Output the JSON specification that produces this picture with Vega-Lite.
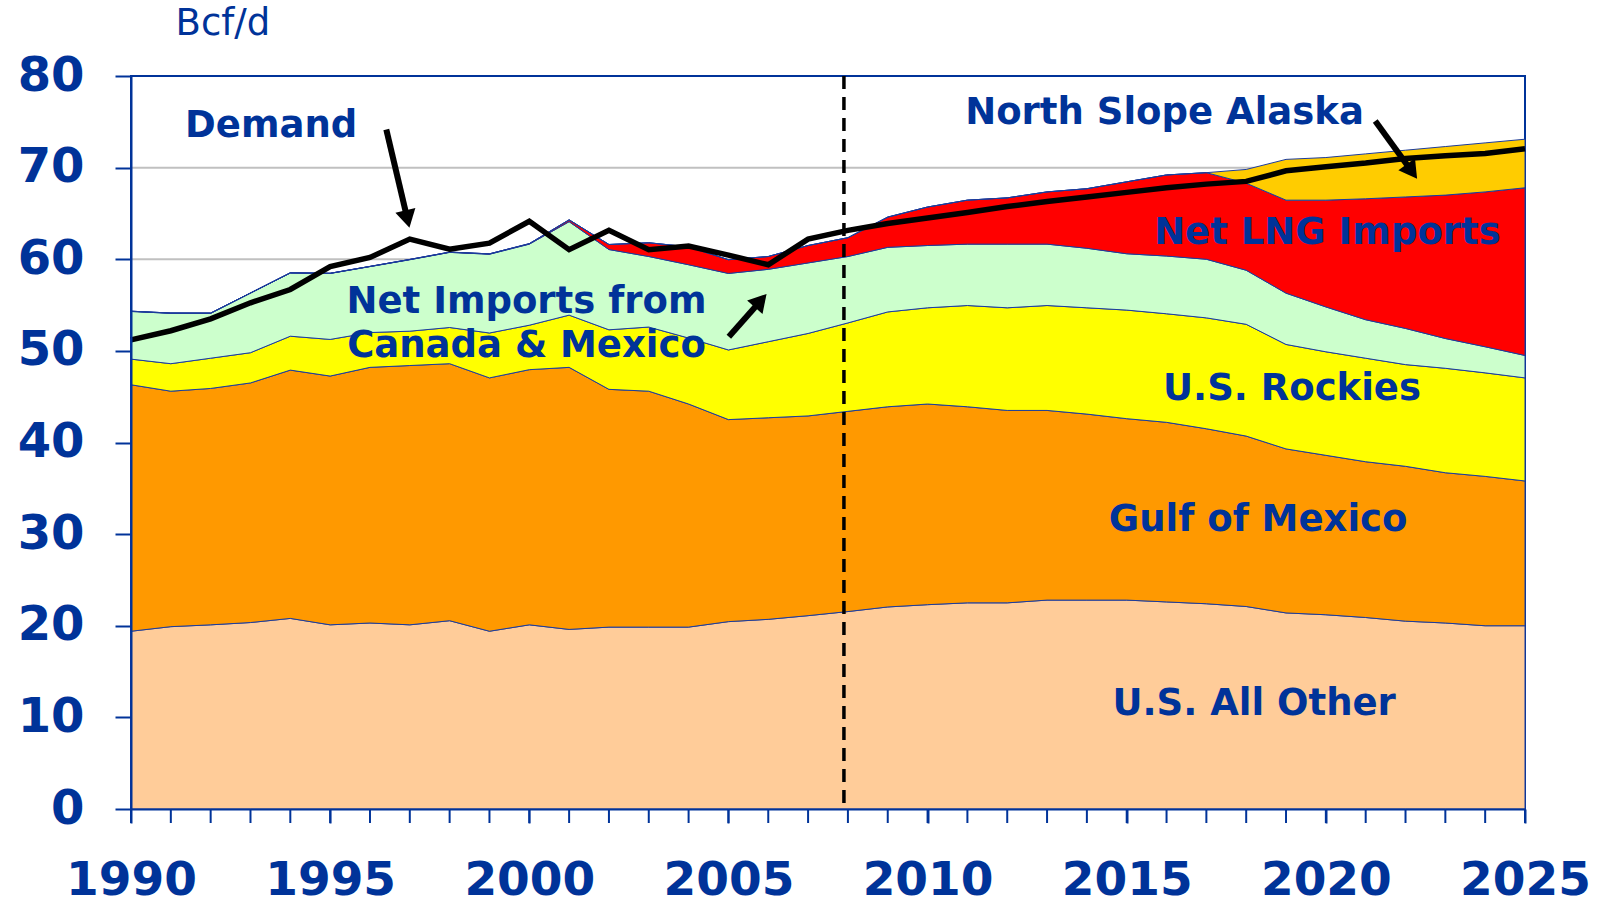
{
  "$schema": "https://vega.github.io/schema/vega-lite/v6.json",
  "width": 1394,
  "height": 733,
  "autosize": {"type": "none"},
  "padding": {"left": 131, "top": 76, "right": 75, "bottom": 89},
  "background": "white",
  "config": {
    "view": {"stroke": "#003399", "strokeWidth": 2},
    "font": "DejaVu Sans"
  },
  "datasets": {
    "supply": [
      {"year": 1990, "allOther": 19.4, "gulf": 26.9, "rockies": 2.8, "canadaMexico": 5.2, "lng": 0.03, "northSlope": 0, "demand": 51.2},
      {"year": 1991, "allOther": 19.9, "gulf": 25.7, "rockies": 3.0, "canadaMexico": 5.5, "lng": 0.03, "northSlope": 0, "demand": 52.2},
      {"year": 1992, "allOther": 20.1, "gulf": 25.8, "rockies": 3.3, "canadaMexico": 4.9, "lng": 0.02, "northSlope": 0, "demand": 53.5},
      {"year": 1993, "allOther": 20.35, "gulf": 26.15, "rockies": 3.3, "canadaMexico": 6.5, "lng": 0.02, "northSlope": 0, "demand": 55.25},
      {"year": 1994, "allOther": 20.8, "gulf": 27.1, "rockies": 3.7, "canadaMexico": 6.9, "lng": 0.02, "northSlope": 0, "demand": 56.7},
      {"year": 1995, "allOther": 20.1, "gulf": 27.15, "rockies": 4.0, "canadaMexico": 7.2, "lng": 0.02, "northSlope": 0, "demand": 59.2},
      {"year": 1996, "allOther": 20.3, "gulf": 27.9, "rockies": 3.8, "canadaMexico": 7.2, "lng": 0.02, "northSlope": 0, "demand": 60.2},
      {"year": 1997, "allOther": 20.1, "gulf": 28.3, "rockies": 3.75, "canadaMexico": 7.8, "lng": 0.03, "northSlope": 0, "demand": 62.2},
      {"year": 1998, "allOther": 20.55, "gulf": 28.05, "rockies": 3.95, "canadaMexico": 8.2, "lng": 0.03, "northSlope": 0, "demand": 61.1},
      {"year": 1999, "allOther": 19.4, "gulf": 27.65, "rockies": 4.9, "canadaMexico": 8.6, "lng": 0.04, "northSlope": 0, "demand": 61.75},
      {"year": 2000, "allOther": 20.1, "gulf": 27.85, "rockies": 4.85, "canadaMexico": 8.85, "lng": 0.05, "northSlope": 0, "demand": 64.15},
      {"year": 2001, "allOther": 19.6, "gulf": 28.6, "rockies": 5.7, "canadaMexico": 10.2, "lng": 0.2, "northSlope": 0, "demand": 61.05},
      {"year": 2002, "allOther": 19.85, "gulf": 25.95, "rockies": 6.5, "canadaMexico": 8.76, "lng": 0.55, "northSlope": 0, "demand": 63.15},
      {"year": 2003, "allOther": 19.85, "gulf": 25.75, "rockies": 7.0, "canadaMexico": 7.7, "lng": 1.5, "northSlope": 0, "demand": 61.05},
      {"year": 2004, "allOther": 19.85, "gulf": 24.35, "rockies": 7.2, "canadaMexico": 8.0, "lng": 1.95, "northSlope": 0, "demand": 61.45},
      {"year": 2005, "allOther": 20.45, "gulf": 22.05, "rockies": 7.6, "canadaMexico": 8.35, "lng": 1.5, "northSlope": 0, "demand": 60.45},
      {"year": 2006, "allOther": 20.7, "gulf": 22.0, "rockies": 8.3, "canadaMexico": 7.9, "lng": 1.4, "northSlope": 0, "demand": 59.4},
      {"year": 2007, "allOther": 21.1, "gulf": 21.8, "rockies": 9.0, "canadaMexico": 7.7, "lng": 1.9, "northSlope": 0, "demand": 62.2},
      {"year": 2008, "allOther": 21.55, "gulf": 21.85, "rockies": 9.65, "canadaMexico": 7.25, "lng": 2.05, "northSlope": 0, "demand": 63.15},
      {"year": 2009, "allOther": 22.05, "gulf": 21.85, "rockies": 10.35, "canadaMexico": 7.05, "lng": 3.3, "northSlope": 0, "demand": 63.9},
      {"year": 2010, "allOther": 22.3, "gulf": 21.9, "rockies": 10.5, "canadaMexico": 6.8, "lng": 4.2, "northSlope": 0, "demand": 64.5},
      {"year": 2011, "allOther": 22.5, "gulf": 21.4, "rockies": 11.05, "canadaMexico": 6.7, "lng": 4.8, "northSlope": 0, "demand": 65.1},
      {"year": 2012, "allOther": 22.5, "gulf": 21.0, "rockies": 11.2, "canadaMexico": 6.95, "lng": 5.05, "northSlope": 0, "demand": 65.75},
      {"year": 2013, "allOther": 22.8, "gulf": 20.7, "rockies": 11.45, "canadaMexico": 6.7, "lng": 5.7, "northSlope": 0, "demand": 66.3},
      {"year": 2014, "allOther": 22.8, "gulf": 20.3, "rockies": 11.6, "canadaMexico": 6.5, "lng": 6.5, "northSlope": 0, "demand": 66.8},
      {"year": 2015, "allOther": 22.8, "gulf": 19.8, "rockies": 11.85, "canadaMexico": 6.15, "lng": 7.85, "northSlope": 0, "demand": 67.3},
      {"year": 2016, "allOther": 22.6, "gulf": 19.6, "rockies": 11.85, "canadaMexico": 6.3, "lng": 8.85, "northSlope": 0, "demand": 67.8},
      {"year": 2017, "allOther": 22.4, "gulf": 19.1, "rockies": 12.1, "canadaMexico": 6.4, "lng": 9.45, "northSlope": 0, "demand": 68.2},
      {"year": 2018, "allOther": 22.1, "gulf": 18.6, "rockies": 12.2, "canadaMexico": 5.9, "lng": 9.5, "northSlope": 1.5, "demand": 68.5},
      {"year": 2019, "allOther": 21.4, "gulf": 17.9, "rockies": 11.4, "canadaMexico": 5.6, "lng": 10.15, "northSlope": 4.45, "demand": 69.65},
      {"year": 2020, "allOther": 21.2, "gulf": 17.4, "rockies": 11.3, "canadaMexico": 4.9, "lng": 11.65, "northSlope": 4.65, "demand": 70.1},
      {"year": 2021, "allOther": 20.9, "gulf": 17.0, "rockies": 11.3, "canadaMexico": 4.2, "lng": 13.2, "northSlope": 4.9, "demand": 70.5},
      {"year": 2022, "allOther": 20.5, "gulf": 16.9, "rockies": 11.1, "canadaMexico": 3.95, "lng": 14.35, "northSlope": 5.1, "demand": 71.0},
      {"year": 2023, "allOther": 20.3, "gulf": 16.4, "rockies": 11.4, "canadaMexico": 3.25, "lng": 15.65, "northSlope": 5.3, "demand": 71.3},
      {"year": 2024, "allOther": 20.0, "gulf": 16.3, "rockies": 11.3, "canadaMexico": 2.85, "lng": 16.9, "northSlope": 5.35, "demand": 71.55},
      {"year": 2025, "allOther": 20.0, "gulf": 15.8, "rockies": 11.25, "canadaMexico": 2.45, "lng": 18.3, "northSlope": 5.3, "demand": 72.05}
    ],
    "seriesInfo": [
      {"series": "allOther", "rank": 1},
      {"series": "gulf", "rank": 2},
      {"series": "rockies", "rank": 3},
      {"series": "canadaMexico", "rank": 4},
      {"series": "lng", "rank": 5},
      {"series": "northSlope", "rank": 6}
    ],
    "grid": [{"v": 10}, {"v": 20}, {"v": 30}, {"v": 40}, {"v": 50}, {"v": 60}, {"v": 70}],
    "marker": [{"year": 2007.9}],
    "notes": [
      {"label": "Demand", "year": 1993.52, "value": 74.5},
      {"label": "North Slope Alaska", "year": 2015.95, "value": 75.94},
      {"label": "Net LNG Imports", "year": 2020.04, "value": 62.85},
      {"label": "Net Imports from", "year": 1999.93, "value": 55.32},
      {"label": "Canada & Mexico", "year": 1999.93, "value": 50.5},
      {"label": "U.S. Rockies", "year": 2019.15, "value": 45.8},
      {"label": "Gulf of Mexico", "year": 2018.3, "value": 31.5},
      {"label": "U.S. All Other", "year": 2018.2, "value": 11.45}
    ],
    "arrows": [
      {"id": "demand", "x": 1996.41, "y": 74.16, "hx": 1996.94, "hy": 64.39},
      {"id": "northSlope", "x": 2021.24, "y": 75.1, "hx": 2022.16, "hy": 69.58},
      {"id": "canada", "x": 2005.01, "y": 51.53, "hx": 2005.81, "hy": 55.48}
    ]
  },
  "layer": [
    {
      "data": {"name": "grid"},
      "mark": {"type": "rule", "color": "#c0c0c0", "strokeWidth": 2},
      "encoding": {
        "y": {"field": "v", "type": "quantitative"}
      }
    },
    {
      "data": {"name": "supply"},
      "transform": [
        {"fold": ["allOther", "gulf", "rockies", "canadaMexico", "lng", "northSlope"], "as": ["series", "value"]},
        {"lookup": "series", "from": {"data": {"name": "seriesInfo"}, "key": "series", "fields": ["rank"]}}
      ],
      "mark": {"type": "area", "stroke": "#1c3c9c", "strokeWidth": 1, "interpolate": "linear"},
      "encoding": {
        "x": {
          "field": "year", "type": "quantitative",
          "scale": {"domain": [1990, 2025], "nice": false, "zero": false},
          "axis": {
            "values": [1990, 1995, 2000, 2005, 2010, 2015, 2020, 2025],
            "format": "d",
            "labelFlush": false, "labelOverlap": false, "labelBound": false,
            "labelFont": "DejaVu Sans", "labelFontSize": 47, "labelFontWeight": "bold", "labelColor": "#003399",
            "labelPadding": 34,
            "tickColor": "#003399", "tickSize": 14, "tickWidth": 2,
            "domainColor": "#003399", "domainWidth": 2,
            "grid": false, "title": null, "zindex": 1
          }
        },
        "y": {
          "field": "value", "type": "quantitative", "stack": "zero",
          "scale": {"domain": [0, 80], "nice": false},
          "axis": {
            "values": [0, 10, 20, 30, 40, 50, 60, 70, 80],
            "labelFont": "DejaVu Sans", "labelFontSize": 48, "labelFontWeight": "bold", "labelColor": "#003399",
            "labelPadding": 31,
            "tickColor": "#003399", "tickSize": 16, "tickWidth": 2,
            "domainColor": "#003399", "domainWidth": 2,
            "grid": false, "zindex": 1,
            "title": "Bcf/d", "titleAngle": 0, "titleAlign": "left", "titleBaseline": "middle",
            "titleX": 44, "titleY": -53, "titleFont": "DejaVu Sans", "titleFontSize": 37,
            "titleFontWeight": "normal", "titleColor": "#003399"
          }
        },
        "color": {
          "field": "series", "type": "nominal",
          "scale": {
            "domain": ["allOther", "gulf", "rockies", "canadaMexico", "lng", "northSlope"],
            "range": ["#FFCC99", "#FF9900", "#FFFF00", "#CCFFCC", "#FF0000", "#FFCC00"]
          },
          "legend": null
        },
        "order": {"field": "rank", "type": "quantitative", "sort": "ascending"}
      }
    },
    {
      "data": {"name": "supply"},
      "mark": {"type": "rule", "color": "#003399", "strokeWidth": 2, "y2Offset": 14, "clip": false},
      "encoding": {
        "x": {"field": "year", "type": "quantitative"},
        "y": {"datum": 0},
        "y2": {"datum": 0}
      }
    },
    {
      "data": {"name": "marker"},
      "mark": {"type": "rule", "color": "black", "strokeWidth": 3.5, "strokeDash": [13, 8]},
      "encoding": {
        "x": {"field": "year", "type": "quantitative"}
      }
    },
    {
      "data": {"name": "supply"},
      "mark": {"type": "line", "color": "black", "strokeWidth": 5.5},
      "encoding": {
        "x": {"field": "year", "type": "quantitative"},
        "y": {"field": "demand", "type": "quantitative"}
      }
    },
    {
      "data": {"name": "arrows"},
      "mark": {"type": "rule", "color": "black", "strokeWidth": 6},
      "encoding": {
        "x": {"field": "x", "type": "quantitative"},
        "y": {"field": "y", "type": "quantitative"},
        "x2": {"field": "hx"},
        "y2": {"field": "hy"}
      }
    },
    {
      "data": {"name": "arrows"},
      "transform": [{"filter": {"field": "id", "equal": "demand"}}],
      "mark": {"type": "point", "shape": "triangle-up", "filled": true, "color": "black", "opacity": 1, "size": 420, "angle": 166.8},
      "encoding": {
        "x": {"field": "hx", "type": "quantitative"},
        "y": {"field": "hy", "type": "quantitative"}
      }
    },
    {
      "data": {"name": "arrows"},
      "transform": [{"filter": {"field": "id", "equal": "northSlope"}}],
      "mark": {"type": "point", "shape": "triangle-up", "filled": true, "color": "black", "opacity": 1, "size": 420, "angle": 144.1},
      "encoding": {
        "x": {"field": "hx", "type": "quantitative"},
        "y": {"field": "hy", "type": "quantitative"}
      }
    },
    {
      "data": {"name": "arrows"},
      "transform": [{"filter": {"field": "id", "equal": "canada"}}],
      "mark": {"type": "point", "shape": "triangle-up", "filled": true, "color": "black", "opacity": 1, "size": 420, "angle": 41.4},
      "encoding": {
        "x": {"field": "hx", "type": "quantitative"},
        "y": {"field": "hy", "type": "quantitative"}
      }
    },
    {
      "data": {"name": "notes"},
      "mark": {"type": "text", "font": "DejaVu Sans", "fontSize": 37, "fontWeight": "bold", "color": "#003399", "align": "center", "baseline": "middle"},
      "encoding": {
        "x": {"field": "year", "type": "quantitative"},
        "y": {"field": "value", "type": "quantitative"},
        "text": {"field": "label"}
      }
    }
  ]
}
